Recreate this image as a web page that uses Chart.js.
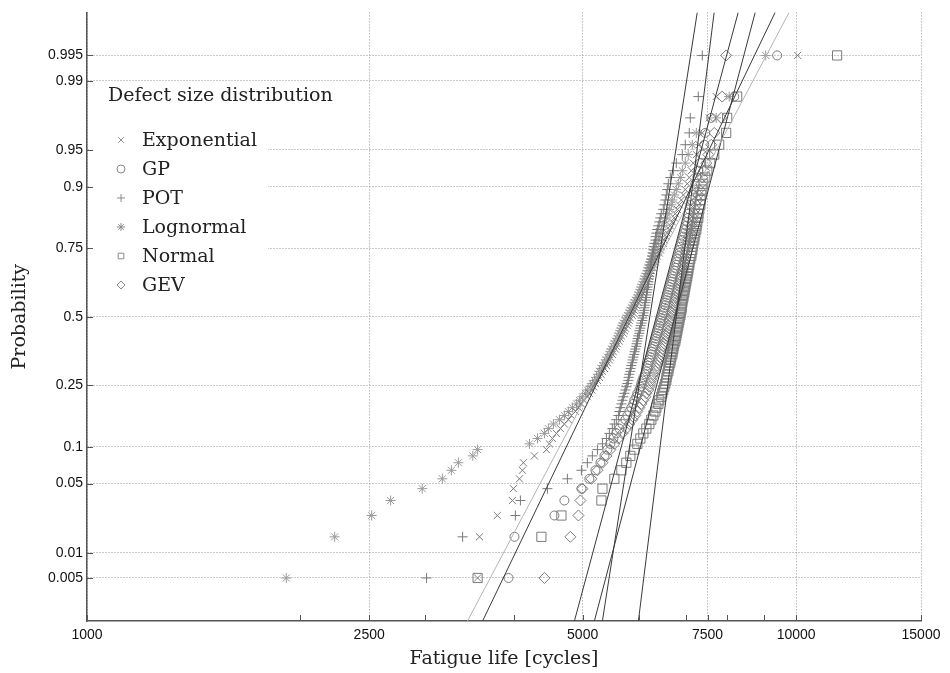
<!DOCTYPE html>
<html>
<head>
<meta charset="utf-8">
<title>Fatigue life probability plot</title>
<script src="https://cdn.jsdelivr.net/npm/chart.js@4.4.1/dist/chart.umd.min.js"></script>
<style>
  html, body { margin: 0; padding: 0; background: #fff; }
  #wrap { width: 950px; height: 673px; }
</style>
</head>
<body>
<div id="wrap"><canvas id="chart" width="950" height="673"></canvas></div>
<script>
// plotting positions (same for every sample of 100)
const probs = [
  0.005, 0.015, 0.025, 0.035, 0.045, 0.055, 0.065, 0.075, 0.085, 0.095,
  0.105, 0.115, 0.125, 0.135, 0.145, 0.155, 0.165, 0.175, 0.185, 0.195,
  0.205, 0.215, 0.225, 0.235, 0.245, 0.255, 0.265, 0.275, 0.285, 0.295,
  0.305, 0.315, 0.325, 0.335, 0.345, 0.355, 0.365, 0.375, 0.385, 0.395,
  0.405, 0.415, 0.425, 0.435, 0.445, 0.455, 0.465, 0.475, 0.485, 0.495,
  0.505, 0.515, 0.525, 0.535, 0.545, 0.555, 0.565, 0.575, 0.585, 0.595,
  0.605, 0.615, 0.625, 0.635, 0.645, 0.655, 0.665, 0.675, 0.685, 0.695,
  0.705, 0.715, 0.725, 0.735, 0.745, 0.755, 0.765, 0.775, 0.785, 0.795,
  0.805, 0.815, 0.825, 0.835, 0.845, 0.855, 0.865, 0.875, 0.885, 0.895,
  0.905, 0.915, 0.925, 0.935, 0.945, 0.955, 0.965, 0.975, 0.985, 0.995
];

// sorted fatigue lives [cycles], one array per defect size distribution
const expLife = [
  3555, 3577, 3790, 3980, 3993, 4072, 4112, 4125, 4275, 4445,
  4488, 4532, 4592, 4652, 4712, 4773, 4820, 4884, 4932, 4980,
  5021, 5077, 5110, 5152, 5178, 5212, 5246, 5280, 5308, 5332,
  5367, 5401, 5418, 5453, 5471, 5506, 5524, 5560, 5578, 5597,
  5633, 5651, 5670, 5707, 5725, 5744, 5781, 5799, 5818, 5837,
  5875, 5894, 5913, 5932, 5952, 5990, 6010, 6030, 6049, 6069,
  6089, 6109, 6149, 6169, 6189, 6209, 6229, 6249, 6290, 6311,
  6331, 6352, 6372, 6412, 6433, 6454, 6496, 6517, 6560, 6581,
  6624, 6646, 6689, 6733, 6755, 6799, 6843, 6888, 6933, 6977,
  7023, 7068, 7114, 7160, 7232, 7302, 7373, 7542, 7714, 10050
];
const gpLife = [
  3930, 4007, 4562, 4712, 4980, 5110, 5212, 5297, 5367, 5418,
  5471, 5524, 5578, 5633, 5688, 5744, 5781, 5818, 5856, 5894,
  5913, 5952, 5971, 6010, 6030, 6049, 6069, 6089, 6129, 6149,
  6169, 6175, 6189, 6209, 6229, 6249, 6255, 6270, 6290, 6311,
  6331, 6337, 6352, 6372, 6392, 6398, 6412, 6433, 6438, 6454,
  6475, 6496, 6501, 6517, 6539, 6544, 6560, 6581, 6587, 6603,
  6624, 6630, 6646, 6667, 6689, 6694, 6711, 6733, 6755, 6777,
  6782, 6799, 6821, 6843, 6848, 6866, 6888, 6910, 6933, 6955,
  6977, 7000, 7023, 7045, 7050, 7068, 7091, 7114, 7160, 7183,
  7207, 7255, 7278, 7326, 7373, 7421, 7445, 7591, 8179, 9403
];
const potLife = [
  3012, 3386, 4019, 4085, 4459, 4758, 4980, 5077, 5160, 5246,
  5332, 5401, 5453, 5506, 5542, 5578, 5615, 5633, 5651, 5670,
  5688, 5707, 5725, 5744, 5762, 5781, 5799, 5805, 5818, 5837,
  5842, 5856, 5875, 5880, 5894, 5913, 5918, 5932, 5952, 5958,
  5971, 5976, 5990, 6010, 6014, 6030, 6035, 6049, 6069, 6072,
  6089, 6093, 6109, 6112, 6118, 6129, 6133, 6149, 6152, 6158,
  6169, 6173, 6189, 6192, 6198, 6209, 6214, 6229, 6232, 6238,
  6249, 6254, 6270, 6274, 6290, 6295, 6311, 6331, 6336, 6352,
  6372, 6392, 6412, 6433, 6454, 6496, 6517, 6539, 6560, 6581,
  6603, 6646, 6711, 6777, 6910, 6977, 7068, 7091, 7278, 7373
];
const logLife = [
  1910, 2235, 2520, 2680, 2970, 3170, 3265, 3340, 3500, 3555,
  4207, 4318, 4416, 4474, 4547, 4637, 4712, 4773, 4836, 4900,
  4948, 4996, 5045, 5077, 5127, 5161, 5195, 5229, 5263, 5280,
  5314, 5332, 5367, 5401, 5418, 5453, 5471, 5488, 5524, 5542,
  5560, 5597, 5615, 5633, 5651, 5670, 5688, 5707, 5744, 5762,
  5780, 5818, 5837, 5856, 5894, 5913, 5932, 5971, 5990, 6010,
  6030, 6049, 6069, 6089, 6109, 6129, 6149, 6169, 6189, 6209,
  6229, 6249, 6270, 6290, 6311, 6331, 6352, 6392, 6412, 6433,
  6454, 6496, 6517, 6560, 6581, 6624, 6667, 6689, 6733, 6777,
  6821, 6866, 6910, 6977, 7045, 7138, 7232, 7714, 8047, 9060
];
const normLife = [
  3555, 4373, 4667, 5314, 5332, 5542, 5670, 5762, 5837, 5913,
  5971, 6030, 6089, 6149, 6209, 6249, 6290, 6331, 6352, 6392,
  6412, 6454, 6475, 6496, 6517, 6539, 6560, 6565, 6581, 6603,
  6608, 6624, 6646, 6651, 6667, 6689, 6694, 6711, 6716, 6733,
  6755, 6760, 6777, 6782, 6799, 6804, 6821, 6826, 6843, 6848,
  6866, 6871, 6888, 6893, 6898, 6910, 6915, 6933, 6938, 6955,
  6960, 6977, 6982, 7000, 7005, 7023, 7028, 7045, 7050, 7068,
  7073, 7091, 7114, 7119, 7138, 7143, 7160, 7183, 7188, 7207,
  7232, 7237, 7255, 7278, 7283, 7302, 7326, 7331, 7350, 7373,
  7397, 7445, 7494, 7567, 7665, 7790, 7968, 7994, 8258, 11423
];
const gevLife = [
  4416, 4804, 4932, 4964, 4996, 5144, 5246, 5332, 5401, 5471,
  5542, 5615, 5688, 5762, 5818, 5875, 5932, 5971, 6010, 6049,
  6089, 6129, 6149, 6189, 6209, 6229, 6249, 6270, 6290, 6331,
  6352, 6372, 6392, 6412, 6433, 6454, 6459, 6475, 6496, 6517,
  6539, 6544, 6560, 6581, 6603, 6608, 6624, 6646, 6651, 6667,
  6689, 6694, 6711, 6733, 6738, 6755, 6760, 6777, 6799, 6804,
  6821, 6843, 6848, 6866, 6871, 6888, 6910, 6915, 6933, 6938,
  6955, 6977, 6982, 7000, 7005, 7023, 7045, 7050, 7068, 7091,
  7096, 7114, 7138, 7160, 7183, 7207, 7232, 7255, 7278, 7302,
  7350, 7373, 7421, 7469, 7518, 7591, 7665, 7840, 7865, 7968
];

// fitted lines: life at the two ends of the probability axis
const fitProbs = [0.00135, 0.99865];
const expFit = [3613, 9342];
const gpFit = [4868, 8285];
const potFit = [5331, 7254];
const logFit = [3440, 9775];
const normFit = [5992, 7663];
const gevFit = [5194, 8756];

const seriesNames = ['Exponential', 'GP', 'POT', 'Lognormal', 'Normal', 'GEV'];
const seriesStyles = ['crossRot', 'circle', 'cross', 'star', 'rect', 'rectRot'];
const seriesLives = [expLife, gpLife, potLife, logLife, normLife, gevLife];
const seriesFits = [expFit, gpFit, potFit, logFit, normFit, gevFit];

const xTicks = [1000, 2500, 5000, 7500, 10000, 15000];
const xMinorTicks = [2000, 3000, 4000, 6000, 7000, 8000, 9000];
const probTicks = [0.005, 0.01, 0.05, 0.1, 0.25, 0.5, 0.75, 0.9, 0.95, 0.99, 0.995];

// inverse standard normal cdf (Acklam)
function probit(p) {
  const a = [-39.69683028665376, 220.9460984245205, -275.9285104469687, 138.3577518672690, -30.66479806614716, 2.506628277459239];
  const b = [-54.47609879822406, 161.5858368580409, -155.6989798598866, 66.80131188771972, -13.28068155288572];
  const c = [-0.007784894002430293, -0.3223964580411365, -2.400758277161838, -2.549732539343734, 4.374664141464968, 2.938163982698783];
  const d = [0.007784695709041462, 0.3224671290700398, 2.445134137142996, 3.754408661907416];
  const plow = 0.02425;
  if (p < plow) {
    const q = Math.sqrt(-2 * Math.log(p));
    return (((((c[0]*q+c[1])*q+c[2])*q+c[3])*q+c[4])*q+c[5]) / ((((d[0]*q+d[1])*q+d[2])*q+d[3])*q+1);
  }
  if (p > 1 - plow) {
    const q = Math.sqrt(-2 * Math.log(1 - p));
    return -(((((c[0]*q+c[1])*q+c[2])*q+c[3])*q+c[4])*q+c[5]) / ((((d[0]*q+d[1])*q+d[2])*q+d[3])*q+1);
  }
  const q = p - 0.5, r = q * q;
  return (((((a[0]*r+a[1])*r+a[2])*r+a[3])*r+a[4])*r+a[5])*q / (((((b[0]*r+b[1])*r+b[2])*r+b[3])*r+b[4])*r+1);
}

function normCdf(z) {
  const t = 1 / (1 + 0.2316419 * Math.abs(z));
  const poly = t * (0.319381530 + t * (-0.356563782 + t * (1.781477937 + t * (-1.821255978 + t * 1.330274429))));
  const v = 1 - Math.exp(-z * z / 2) / Math.sqrt(2 * Math.PI) * poly;
  return z >= 0 ? v : 1 - v;
}

// normal probability axis
class ProbitScale extends Chart.Scale {
  determineDataLimits() {
    this.min = this.options.min;
    this.max = this.options.max;
  }
  buildTicks() {
    return probTicks.map(v => ({ value: v }));
  }
  getLabelForValue(v) {
    return String(v);
  }
  configure() {
    super.configure();
    this._zlo = probit(this.min);
    this._zhi = probit(this.max);
  }
  getPixelForValue(v) {
    return this.getPixelForDecimal((probit(v) - this._zlo) / (this._zhi - this._zlo));
  }
  getValueForPixel(px) {
    return normCdf(this._zlo + this.getDecimalForPixel(px) * (this._zhi - this._zlo));
  }
}
ProbitScale.id = 'probit';
ProbitScale.defaults = {};
Chart.register(ProbitScale);

const markerRadius = { crossRot: 5, circle: 4.5, cross: 5, star: 5, rect: 6.5, rectRot: 5.5 };

function drawMarker(ctx, style, x, y, r) {
  const k = r * 0.7;
  ctx.beginPath();
  if (style === 'crossRot' || style === 'star') {
    ctx.moveTo(x - k, y - k); ctx.lineTo(x + k, y + k);
    ctx.moveTo(x + k, y - k); ctx.lineTo(x - k, y + k);
  }
  if (style === 'cross' || style === 'star') {
    ctx.moveTo(x - r, y); ctx.lineTo(x + r, y);
    ctx.moveTo(x, y - r); ctx.lineTo(x, y + r);
  }
  if (style === 'circle') ctx.arc(x, y, r, 0, Math.PI * 2);
  if (style === 'rect') ctx.rect(x - k, y - k, 2 * k, 2 * k);
  if (style === 'rectRot') {
    ctx.moveTo(x, y - r); ctx.lineTo(x + r, y); ctx.lineTo(x, y + r); ctx.lineTo(x - r, y); ctx.closePath();
  }
  ctx.stroke();
}

const decor = {
  id: 'decor',
  beforeDatasetsDraw(chart) {
    const ctx = chart.ctx;
    ctx.save();
    // legend
    ctx.fillStyle = '#fff';
    ctx.fillRect(89, 112, 179, 190);
    ctx.fillStyle = '#222';
    ctx.font = '19px "DejaVu Serif"';
    ctx.textBaseline = 'middle';
    ctx.fillText('Defect size distribution', 108, 96);
    const rowY = [140, 169, 198, 227, 256, 285];
    ctx.strokeStyle = '#8a8a8a';
    ctx.lineWidth = 1;
    seriesNames.forEach((name, i) => {
      drawMarker(ctx, seriesStyles[i], 121, rowY[i], 4);
      ctx.fillText(name, 142, rowY[i] + 1);
    });
    ctx.restore();
  },
  afterDraw(chart) {
    const ctx = chart.ctx;
    const { left, right, top, bottom } = chart.chartArea;
    const xs = chart.scales.x, ys = chart.scales.y;
    ctx.save();
    ctx.strokeStyle = '#555';
    ctx.lineWidth = 1;
    ctx.beginPath();
    probTicks.forEach(v => {
      const y = Math.round(ys.getPixelForValue(v)) + 0.5;
      ctx.moveTo(left, y); ctx.lineTo(left + 6, y);
    });
    xTicks.concat(xMinorTicks).forEach(v => {
      const x = Math.round(xs.getPixelForValue(v)) + 0.5;
      ctx.moveTo(x, bottom); ctx.lineTo(x, bottom - 6);
    });
    ctx.stroke();
    // axis titles
    ctx.fillStyle = '#222';
    ctx.font = '19px "DejaVu Serif"';
    ctx.textAlign = 'center';
    ctx.textBaseline = 'middle';
    ctx.fillText('Fatigue life [cycles]', (left + right) / 2, 659);
    ctx.translate(20, (top + bottom) / 2);
    ctx.rotate(-Math.PI / 2);
    ctx.fillText('Probability', 0, 0);
    ctx.restore();
  }
};

const datasets = [];
seriesFits.forEach((fit, i) => {
  datasets.push({
    label: seriesNames[i] + ' fit',
    data: fit.map((v, j) => ({ x: v, y: fitProbs[j] })),
    showLine: true,
    pointRadius: 0,
    borderColor: seriesNames[i] === 'Lognormal' ? '#b4b4b4' : '#3a3a3a',
    borderWidth: 1,
    order: 0
  });
});
seriesLives.forEach((life, i) => {
  datasets.push({
    label: seriesNames[i],
    data: life.map((v, j) => ({ x: v, y: probs[j] })),
    pointStyle: seriesStyles[i],
    pointRadius: markerRadius[seriesStyles[i]],
    pointBorderWidth: 1,
    pointBorderColor: seriesNames[i] === 'Lognormal' ? '#9a9a9a' : '#7a7a7a',
    pointBackgroundColor: 'rgba(0,0,0,0)',
    showLine: false,
    order: 1
  });
});

const gridDots = { dash: [1, 2] };

new Chart(document.getElementById('chart'), {
  type: 'scatter',
  data: { datasets },
  options: {
    responsive: false,
    animation: false,
    events: [],
    layout: { padding: { left: 0, right: 29, top: 8, bottom: 0 } },
    plugins: { legend: { display: false }, tooltip: { enabled: false } },
    scales: {
      x: {
        type: 'logarithmic',
        min: 1000,
        max: 15000,
        afterBuildTicks: scale => { scale.ticks = xTicks.map(v => ({ value: v })); },
        afterFit: scale => { scale.height = 52; },
        ticks: {
          autoSkip: false,
          maxRotation: 0,
          padding: 6,
          color: '#111',
          font: { family: '"Liberation Sans", Arial, sans-serif', size: 14 },
          callback: v => String(v)
        },
        grid: { color: '#959595', lineWidth: 1, drawTicks: false },
        border: { display: true, color: '#555', width: 1.5, ...gridDots }
      },
      y: {
        type: 'probit',
        position: 'left',
        min: 0.00135,
        max: 0.99865,
        afterFit: scale => { scale.width = 87; },
        ticks: {
          autoSkip: false,
          padding: 4,
          color: '#111',
          font: { family: '"Liberation Sans", Arial, sans-serif', size: 14 },
          callback: v => String(v)
        },
        grid: { color: '#959595', lineWidth: 1, drawTicks: false },
        border: { display: true, color: '#555', width: 1.5, ...gridDots }
      }
    }
  },
  plugins: [decor]
});
</script>
</body>
</html>
